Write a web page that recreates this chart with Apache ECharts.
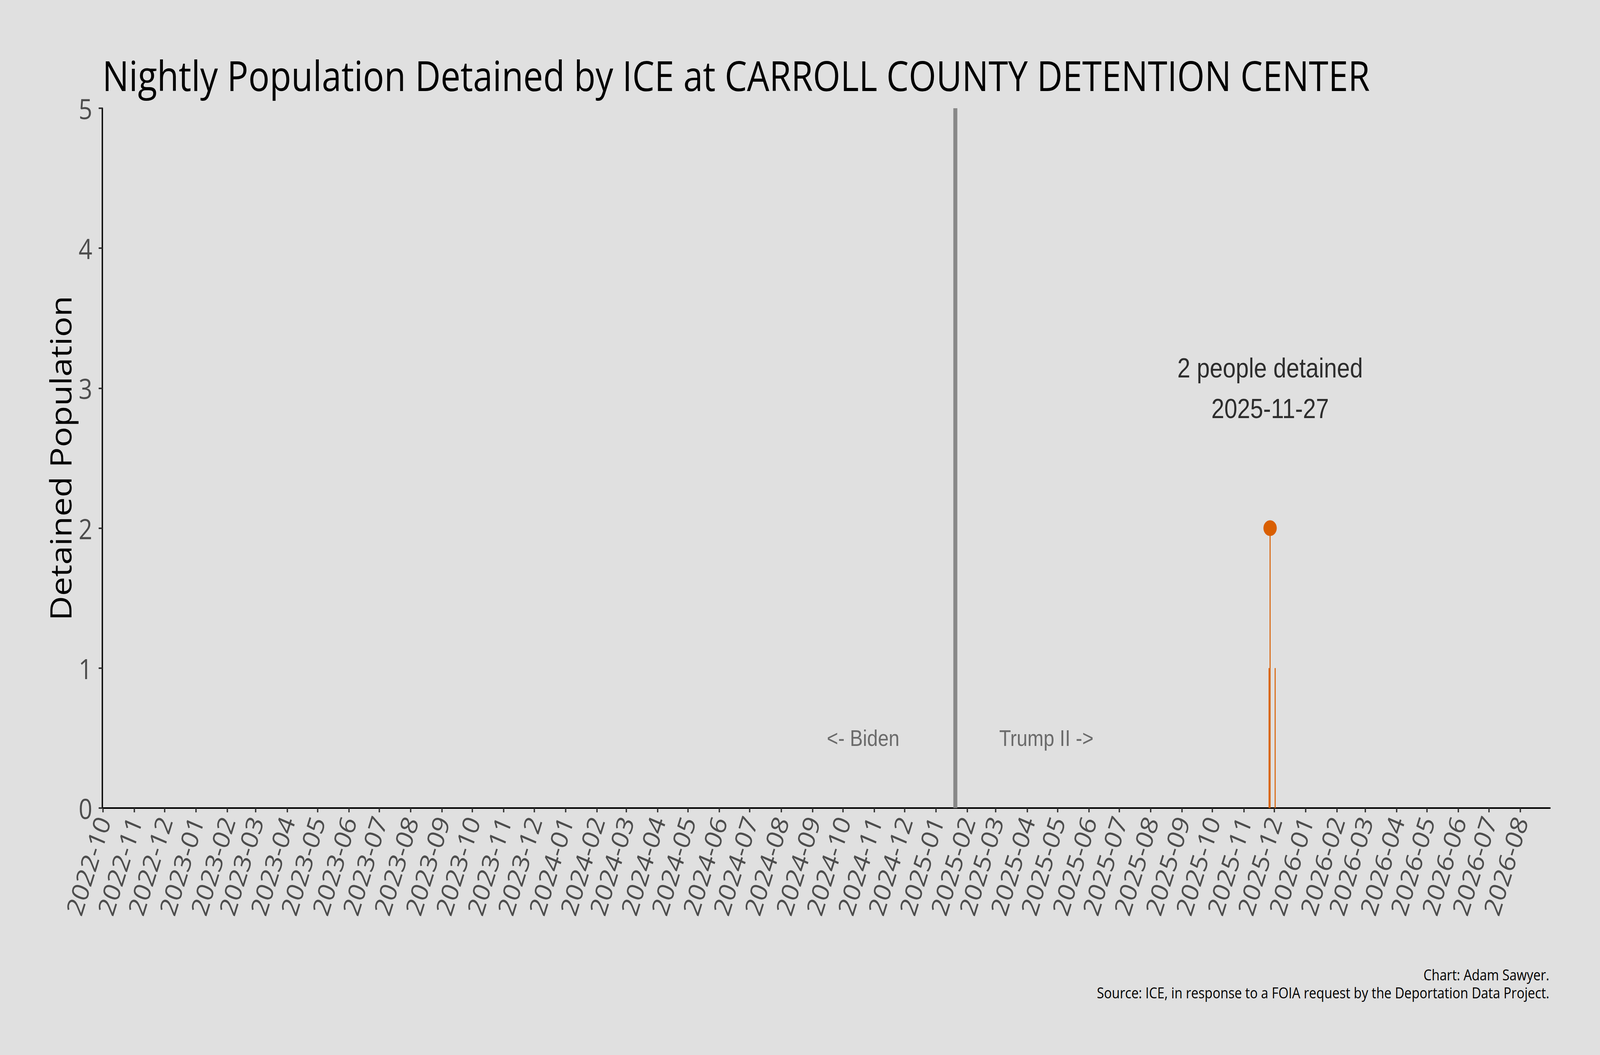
<!DOCTYPE html>
<html>
<head>
<meta charset="utf-8">
<script src="https://cdn.jsdelivr.net/npm/echarts@6.0.0/dist/echarts.min.js"></script>
<style>
html,body{margin:0;padding:0;background:#e0e0e0;overflow:hidden;}
#chart{width:4800px;height:2700px;transform-origin:0 0;}
</style>
</head>
<body>
<div id="chart"></div>
<script>
// ---- data ----
const titleText = 'Nightly Population Detained by ICE at CARROLL COUNTY DETENTION CENTER';
const yAxisTitle = 'Detained Population';
const captionLines = ['Chart: Adam Sawyer.', 'Source: ICE, in response to a FOIA request by the Deportation Data Project.'];
const xRange = ['2022-10-01', '2026-08-30'];
const yTicks = [0, 1, 2, 3, 4, 5];
const popDates = ['2025-11-26', '2025-11-27', '2025-12-02'];
const popValues = [1, 2, 1];
const peakDate = '2025-11-27';
const peakValue = 2;
const inaugurationDate = '2025-01-20';
const eraLabels = ['<- Biden', 'Trump II ->'];
const eraLabelDates = ['2024-10-21', '2025-04-20'];
const eraLabelY = [0.5, 0.5];
const peakLabel = '2 people detained\n2025-11-27';
const peakLabelY = 3.0;

const ORANGE = '#D95F02';
const segoe = '"Open Sans", "Noto Sans", sans-serif';
const arial = '"Liberation Sans", Arial, sans-serif';

// fit the 4800x2700 design into whatever viewport the browser gives
const W = 4800, H = 2700;
const el = document.getElementById('chart');
const sx = (window.innerWidth || W) / W;
const sy = (window.innerHeight || H) / H;
el.style.transform = 'scale(' + sx + ',' + sy + ')';

function ymd(v) {
  const d = new Date(v);
  const m = d.getMonth() + 1;
  return d.getFullYear() + '-' + (m < 10 ? '0' + m : m);
}

const chart = echarts.init(el, null, {renderer: 'svg', width: W, height: H});
const option = {
  backgroundColor: '#e0e0e0',
  animation: false,
  title: {
    text: titleText,
    left: 302,
    top: 134,
    textStyle: {fontFamily: segoe, fontSize: 106, fontWeight: 'normal', color: '#000'}
  },
  grid: {left: 307, right: 150, top: 277, bottom: 632, containLabel: false},
  xAxis: {
    type: 'time',
    min: xRange[0],
    max: xRange[1],
    minInterval: 28 * 86400000,
    maxInterval: 31 * 86400000,
    splitNumber: 48,
    axisLine: {show: true, lineStyle: {color: '#000', width: 4}},
    axisTick: {show: true, length: 11, lineStyle: {color: '#333', width: 4}},
    splitLine: {show: false},
    axisLabel: {
      rotate: 70,
      margin: 24,
      interval: 0,
      hideOverlap: false,
      color: '#4d4d4d',
      fontFamily: segoe,
      fontSize: 70,
      formatter: function (v) { return ymd(v); }
    }
  },
  yAxis: {
    type: 'value',
    min: 0,
    max: 5,
    interval: 1,
    name: yAxisTitle,
    nameLocation: 'middle',
    nameGap: 76,
    nameTextStyle: {fontFamily: segoe, fontSize: 87, color: '#000'},
    axisLine: {show: true, lineStyle: {color: '#000', width: 4}},
    axisTick: {show: true, length: 11, lineStyle: {color: '#333', width: 4}},
    splitLine: {show: false},
    axisLabel: {
      margin: 30,
      color: '#4d4d4d',
      fontFamily: segoe,
      fontSize: 72,
      formatter: function (v) { return yTicks.indexOf(v) >= 0 ? String(v) : ''; }
    }
  },
  series: [
    {
      name: 'population',
      type: 'bar',
      barWidth: 3,
      itemStyle: {color: ORANGE},
      data: popDates.map((d, i) => [d, popValues[i]]),
      markLine: {
        silent: true,
        symbol: ['none', 'none'],
        label: {show: false},
        lineStyle: {color: '#888888', width: 12, type: 'solid'},
        data: [{xAxis: inaugurationDate}]
      }
    },
    {
      name: 'peak',
      type: 'scatter',
      symbol: 'circle',
      symbolSize: 40,
      itemStyle: {color: ORANGE, opacity: 1},
      data: [[peakDate, peakValue]],
      z: 5
    },
    {
      name: 'eraLabels',
      type: 'scatter',
      symbolSize: 0,
      silent: true,
      data: eraLabels.map((t, i) => ({name: t, value: [eraLabelDates[i], eraLabelY[i]]})),
      label: {
        show: true,
        position: 'inside',
        formatter: p => p.name,
        fontFamily: arial,
        fontSize: 58,
        color: '#4d4d4d',
        align: 'center',
        verticalAlign: 'middle'
      }
    },
    {
      name: 'peakLabel',
      type: 'scatter',
      symbolSize: 0,
      silent: true,
      data: [{name: peakLabel, value: [peakDate, peakLabelY]}],
      label: {
        show: true,
        position: 'inside',
        formatter: p => p.name,
        fontFamily: arial,
        fontSize: 70,
        lineHeight: 104,
        color: '#000',
        align: 'center',
        verticalAlign: 'middle'
      }
    }
  ],
  graphic: captionLines.map((t, i) => ({
    type: 'text',
    x: 4648,
    y: 2472 + i * 46,
    style: {
      text: t,
      textAlign: 'right',
      textVerticalAlign: 'top',
      fontFamily: segoe,
      fontSize: 39,
      lineHeight: 44,
      fill: '#000'
    }
  }))
};
chart.setOption(option);
</script>
</body>
</html>
